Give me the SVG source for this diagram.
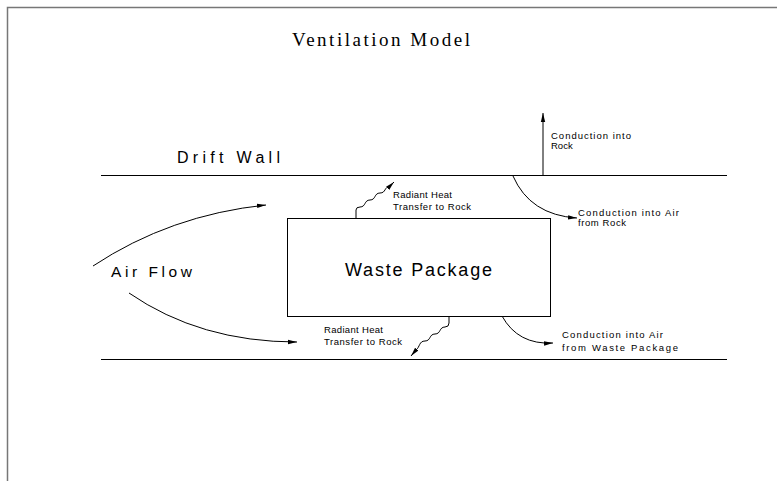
<svg xmlns="http://www.w3.org/2000/svg" width="777" height="481" viewBox="0 0 777 481">
<style>
.ln{stroke:#000;stroke-width:1;fill:none}
.sm{font-family:"Liberation Sans",Arial,sans-serif;font-size:9.5px;fill:#000}
.md{font-family:"Liberation Sans",Arial,sans-serif;fill:#000}
</style>
<defs>
<marker id="ah" markerWidth="10" markerHeight="6" refX="9" refY="3" orient="auto" markerUnits="userSpaceOnUse">
<path d="M0,0.8 L9,3 L0,5.2 Z" fill="#000"/>
</marker>
</defs>
<rect width="777" height="481" fill="#fff"/>
<g id="frame">
<path d="M7.5,481 V7.5 H777" stroke="#777" stroke-width="1.5" fill="none"/>
</g>
<g id="title">
<text x="292" y="46" font-family="Liberation Serif,Times New Roman,serif" font-size="19" textLength="178" lengthAdjust="spacing">Ventilation Model</text>
</g>
<g id="drift-wall">
<line class="ln" x1="101" y1="175.5" x2="727" y2="175.5"/>
<line class="ln" x1="101" y1="359.5" x2="727" y2="359.5"/>
<text class="md" x="177" y="163" font-size="16" textLength="103" lengthAdjust="spacing">Drift Wall</text>
</g>
<g id="air-flow">
<text class="md" x="111" y="277" font-size="15.5" textLength="81" lengthAdjust="spacing">Air Flow</text>
</g>
<g id="waste-package">
<rect class="ln" x="287.5" y="218.5" width="263" height="98"/>
<text class="md" x="345" y="276" font-size="18" textLength="147" lengthAdjust="spacing">Waste Package</text>
</g>
<g id="connectors">
<path class="ln" d="M93,266 Q170,215 266,205" marker-end="url(#ah)"/>
<path class="ln" d="M129,293 Q200,342 297,342" marker-end="url(#ah)"/>
<path class="ln" d="M356,218 V210 Q356,207 360,207 C366,207 364,200 370,200 C376,200 374,193 380,193 C386,193 384,187 390,186 L394,182" marker-end="url(#ah)"/>
<path class="ln" d="M449,316 V323 Q449,327 445,327 C439,327 441,334 435,334 C429,334 431,341 425,341 C419,341 420,347 416,350 L411,356" marker-end="url(#ah)"/>
<path class="ln" d="M543,176 V113" marker-end="url(#ah)"/>
<path class="ln" d="M513,176 Q530,215 577,218" marker-end="url(#ah)"/>
<path class="ln" d="M502,316 Q518,345 553,343" marker-end="url(#ah)"/>
</g>
<g id="labels">
<text class="sm" x="393" y="198" textLength="59" lengthAdjust="spacing">Radiant Heat</text>
<text class="sm" x="393" y="210" textLength="78" lengthAdjust="spacing">Transfer to Rock</text>
<text class="sm" x="324" y="333" textLength="59" lengthAdjust="spacing">Radiant Heat</text>
<text class="sm" x="324" y="345" textLength="78" lengthAdjust="spacing">Transfer to Rock</text>
<text class="sm" x="551" y="139" textLength="80" lengthAdjust="spacing">Conduction into</text>
<text class="sm" x="551" y="149">Rock</text>
<text class="sm" x="578" y="216" textLength="101" lengthAdjust="spacing">Conduction into Air</text>
<text class="sm" x="578" y="226" textLength="48" lengthAdjust="spacing">from Rock</text>
<text class="sm" x="562" y="338" textLength="101" lengthAdjust="spacing">Conduction into Air</text>
<text class="sm" x="562" y="351" textLength="116" lengthAdjust="spacing">from Waste Package</text>
</g>
</svg>
